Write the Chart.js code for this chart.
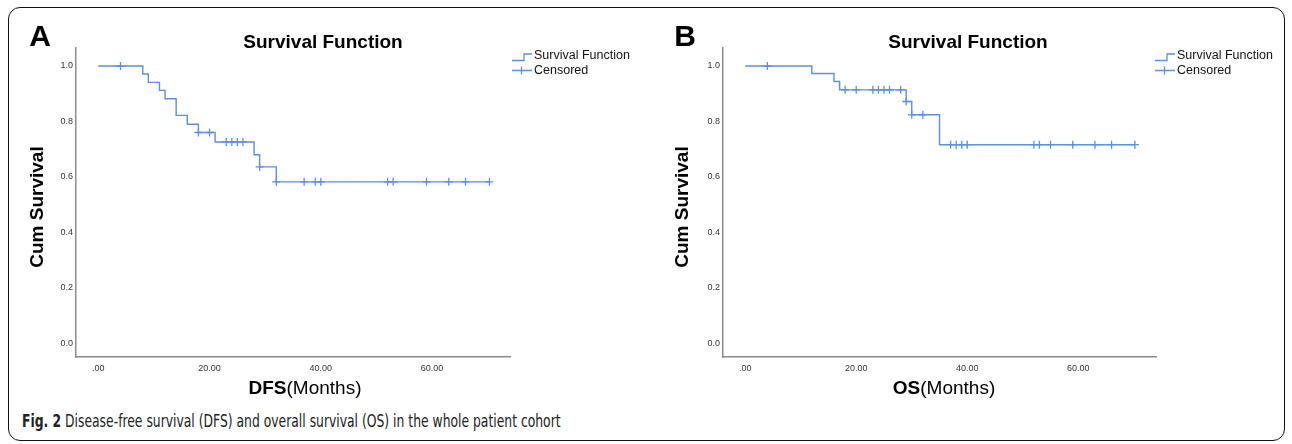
<!DOCTYPE html>
<html>
<head>
<meta charset="utf-8">
<title>Survival Function</title>
<script src="https://cdn.jsdelivr.net/npm/chart.js@4.4.1/dist/chart.umd.min.js"></script>
<style>
    body { margin: 0; background: #fff; width: 1292px; height: 444px; overflow: hidden; position: relative; font-family: Arial, 'Liberation Sans', sans-serif; }
    #frame { position: absolute; left: 8px; top: 7px; width: 1277px; height: 434px; border: 1.5px solid #111; border-radius: 12px; box-sizing: border-box; }
    .panel { position: absolute; top: 0; }
    #caption { position: absolute; left: 22px; top: 411px; font-family: 'Liberation Sans Narrow', 'DejaVu Sans Condensed', sans-serif; font-size: 17.5px; color: #222; white-space: nowrap; transform-origin: 0 0; transform: scaleX(0.785); }
    #caption b { font-weight: bold; }
</style>
</head>
<body>
<div id="frame"></div>
<canvas id="dfsChart" class="panel" style="left:0px" width="646" height="405"></canvas>
<canvas id="osChart" class="panel" style="left:647px" width="645" height="405"></canvas>
<div id="caption"><b>Fig. 2</b> Disease-free survival (DFS) and overall survival (OS) in the whole patient cohort</div>

<script>
// Axis ticks shared by both panels
const xTicks = [0, 20, 40, 60];
const xTickLabels = ['.00', '20.00', '40.00', '60.00'];
const yTicks = [0, 0.2, 0.4, 0.6, 0.8, 1.0];
const yTickLabels = ['0.0', '0.2', '0.4', '0.6', '0.8', '1.0'];

// Panel A - disease-free survival (step points: event time, survival after event)
const dfsTimes = [0, 8, 9, 11, 12, 14, 16, 18, 21, 28, 29, 32, 70.3];
const dfsSurvival = [1.0, 0.971, 0.941, 0.912, 0.882, 0.822, 0.790, 0.760, 0.726, 0.680, 0.636, 0.582, 0.582];
const dfsCensorTimes = [4, 18, 20, 23, 24, 25, 26, 29, 32, 37, 39, 40, 52, 53, 59, 63, 66, 70.3];
const dfsCensorSurvival = [1.0, 0.760, 0.760, 0.726, 0.726, 0.726, 0.726, 0.636, 0.582,
    0.582, 0.582, 0.582, 0.582, 0.582, 0.582, 0.582, 0.582, 0.582];

// Panel B - overall survival
const osTimes = [0, 12, 16, 17, 29, 30, 35, 70.2];
const osSurvival = [1.0, 0.973, 0.944, 0.914, 0.872, 0.824, 0.716, 0.716];
const osCensorTimes = [4, 18, 20, 23, 24, 25, 26, 28, 29, 30, 32, 37, 38, 39, 40, 52, 53, 55, 59, 63, 66, 70.2];
const osCensorSurvival = [1.0, 0.914, 0.914, 0.914, 0.914, 0.914, 0.914, 0.914, 0.872, 0.824, 0.824,
    0.716, 0.716, 0.716, 0.716, 0.716, 0.716, 0.716, 0.716, 0.716, 0.716, 0.716];

const LINE_BLUE = '#5b8fe0';
const AXIS_GREY = '#8c8c8c';
const TEXT_FONT = 'Arial, "Liberation Sans", sans-serif';

/**
 * Draws panel letter, title, axis titles and the legend
 */
const panelDecorPlugin = {
    id: 'panelDecor',
    afterDraw(chart, args, opts) {
        const ctx = chart.ctx;
        ctx.save();
        ctx.fillStyle = '#000';
        ctx.textBaseline = 'middle';

        // panel letter
        ctx.textAlign = 'center';
        ctx.font = 'bold 30px ' + TEXT_FONT;
        ctx.fillText(opts.letter, opts.letterX, 38);

        // title
        ctx.font = 'bold 19px ' + TEXT_FONT;
        ctx.fillText('Survival Function', opts.titleX, 43);

        // y axis title
        ctx.save();
        ctx.translate(opts.yTitleX, 207);
        ctx.rotate(-Math.PI / 2);
        ctx.fillText('Cum Survival', 0, 0);
        ctx.restore();

        // x axis title, bold part + regular part
        ctx.textAlign = 'left';
        ctx.font = 'bold 19px ' + TEXT_FONT;
        const boldW = ctx.measureText(opts.xTitleBold).width;
        ctx.font = '19px ' + TEXT_FONT;
        const restW = ctx.measureText('(Months)').width;
        let x0 = opts.xTitleX - (boldW + restW) / 2;
        ctx.font = 'bold 19px ' + TEXT_FONT;
        ctx.fillText(opts.xTitleBold, x0, 389);
        ctx.font = '19px ' + TEXT_FONT;
        ctx.fillText('(Months)', x0 + boldW, 389);

        // legend
        const lx = opts.legendX;
        ctx.strokeStyle = LINE_BLUE;
        ctx.lineWidth = 1.3;
        ctx.beginPath();
        ctx.moveTo(lx - 22, 60.5);
        ctx.lineTo(lx - 10, 60.5);
        ctx.lineTo(lx - 10, 54);
        ctx.lineTo(lx - 2, 54);
        ctx.stroke();
        ctx.beginPath();
        ctx.moveTo(lx - 22, 70.5);
        ctx.lineTo(lx - 2, 70.5);
        ctx.moveTo(lx - 12.5, 66.5);
        ctx.lineTo(lx - 12.5, 74.5);
        ctx.stroke();
        ctx.fillStyle = '#111';
        ctx.font = '12.5px ' + TEXT_FONT;
        ctx.fillText('Survival Function', lx, 56);
        ctx.fillText('Censored', lx, 71);
        ctx.restore();
    }
};

function buildSurvivalChart(canvasId, times, survival, censorTimes, censorSurvival, decor) {
    const ctx = document.getElementById(canvasId);
    return new Chart(ctx.getContext('2d'), {
        data: {
            datasets: [{
                type: 'line',
                label: 'Survival Function',
                data: times.map((t, i) => ({ x: t, y: survival[i] })),
                borderColor: LINE_BLUE,
                borderWidth: 1.4,
                stepped: true,
                pointRadius: 0,
                fill: false
            }, {
                type: 'scatter',
                label: 'Censored',
                data: censorTimes.map((t, i) => ({ x: t, y: censorSurvival[i] })),
                pointStyle: 'cross',
                pointRadius: 4,
                borderColor: LINE_BLUE,
                borderWidth: 1.3
            }]
        },
        options: {
            responsive: false,
            animation: false,
            devicePixelRatio: 1,
            layout: { padding: { top: 48, right: 136, left: 0, bottom: 10 } },
            plugins: {
                legend: { display: false },
                tooltip: { enabled: false },
                panelDecor: decor
            },
            scales: {
                x: {
                    type: 'linear',
                    min: -4,
                    max: 74,
                    afterBuildTicks: scale => { scale.ticks = xTicks.map(v => ({ value: v })); },
                    afterFit: scale => { scale.height = 38; },
                    grid: { display: false, drawTicks: false },
                    border: { color: AXIS_GREY, width: 1.5 },
                    ticks: {
                        autoSkip: false,
                        maxRotation: 0,
                        padding: 6,
                        color: '#333',
                        font: { size: 9, family: TEXT_FONT },
                        callback: value => xTickLabels[xTicks.indexOf(value)]
                    }
                },
                y: {
                    type: 'linear',
                    min: -0.05,
                    max: 1.065,
                    afterBuildTicks: scale => { scale.ticks = yTicks.map(v => ({ value: v })); },
                    afterFit: scale => { scale.width = 76; },
                    grid: { display: false, drawTicks: false },
                    border: { color: AXIS_GREY, width: 1.5 },
                    ticks: {
                        padding: 3,
                        color: '#333',
                        font: { size: 9, family: TEXT_FONT },
                        callback: value => yTickLabels[yTicks.indexOf(value)]
                    }
                }
            }
        },
        plugins: [panelDecorPlugin]
    });
}

buildSurvivalChart('dfsChart', dfsTimes, dfsSurvival, dfsCensorTimes, dfsCensorSurvival, {
    letter: 'A', letterX: 40, titleX: 323, yTitleX: 38, xTitleBold: 'DFS', xTitleX: 305, legendX: 534
});
buildSurvivalChart('osChart', osTimes, osSurvival, osCensorTimes, osCensorSurvival, {
    letter: 'B', letterX: 38, titleX: 321, yTitleX: 36, xTitleBold: 'OS', xTitleX: 297, legendX: 530
});
</script>
</body>
</html>
